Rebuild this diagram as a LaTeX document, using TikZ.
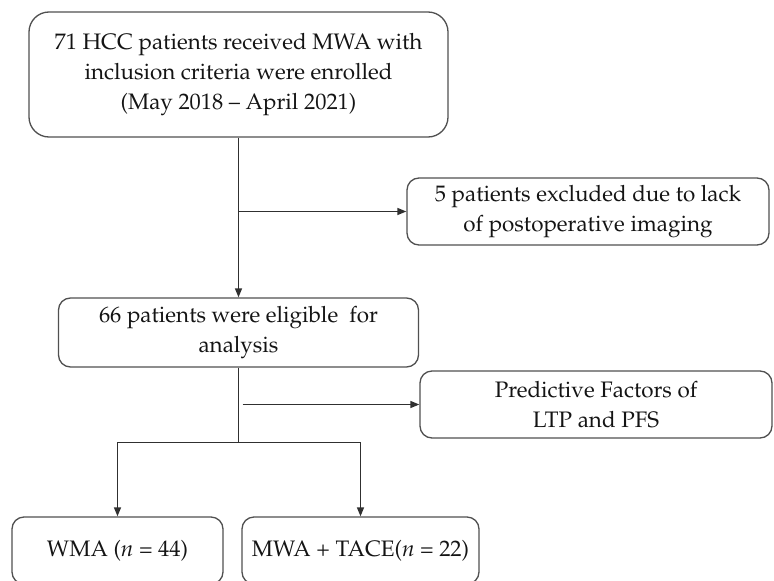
\documentclass[tikz,border=0pt]{standalone}
\usepackage[T1]{fontenc}
\usepackage{mathpazo}
\usetikzlibrary{arrows.meta,calc}

\definecolor{boxline}{HTML}{505050}
\definecolor{linkline}{HTML}{303030}
\definecolor{ink}{HTML}{141414}

\tikzset{
  flowbox/.style={draw=boxline, line width=1.3pt, rounded corners=12pt,
    align=center, text=ink, inner sep=0pt,
    font=\fontsize{22.4}{30}\selectfont},
  link/.style={draw=linkline, line width=1.3pt},
  arr/.style={link, -{Triangle[length=9pt,width=7pt]}},
}

\begin{document}
\begin{tikzpicture}[x=1pt,y=-1pt]
  \useasboundingbox (0,0) rectangle (774,581);
  \clip (0,0) rectangle (774,581);

  % enrolment box
  \node[flowbox, rounded corners=20pt, minimum width=419pt, minimum height=125pt]
    (enrol) at (238.5,74.5)
    {71 HCC patients received MWA with\\
     inclusion criteria were enrolled\\
     (May 2018 -- April 2021)};

  % excluded patients
  \node[flowbox, minimum width=362pt, minimum height=67pt]
    (excl) at (588,211.5)
    {5 patients excluded due to lack\\ of postoperative imaging};

  % eligible patients
  \node[flowbox, minimum width=360pt, minimum height=69pt]
    (elig) at (238.5,332.5)
    {66 patients were eligible\ \ for\\ analysis};

  % predictive factors
  \node[flowbox, minimum width=352pt, minimum height=67pt]
    (pred) at (596,404.5)
    {Predictive Factors of\\ LTP and PFS};

  % treatment groups
  \node[flowbox, minimum width=211pt, minimum height=67pt]
    (wma) at (117.5,550.5)
    {WMA (\textit{n} = 44)};
  \node[flowbox, minimum width=237pt, minimum height=67pt]
    (tace) at (360.5,550.5)
    {MWA + TACE(\textit{n} = 22)};

  % connectors
  \draw[arr] (enrol.south) -- (enrol.south |- elig.north);
  \draw[arr] (enrol.south |- excl.west) -- (excl.west);
  \draw[link] (elig.south) -- ++(0,75) coordinate (split);
  \draw[arr] ($(elig.south |- pred.west)+(4,0)$) -- (pred.west);
  \draw[arr] (split) -| (wma.north);
  \draw[arr] (split) -| (tace.north);
\end{tikzpicture}
\end{document}
